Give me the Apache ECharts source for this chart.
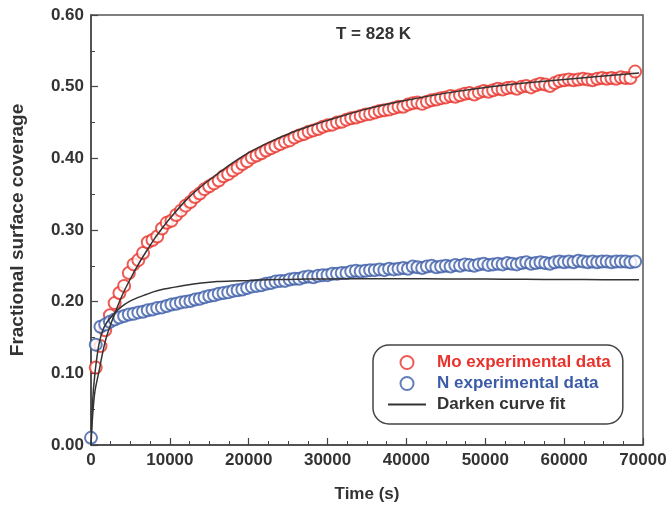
<!DOCTYPE html>
<html>
<head>
<meta charset="utf-8">
<script src="https://cdn.jsdelivr.net/npm/echarts@6/dist/echarts.min.js"></script>
<style>
html,body{margin:0;padding:0;background:#fff;}
#chart{width:670px;height:508px;}
</style>
</head>
<body>
<div id="chart"></div>
<script>
// ---- data ----
var moTime = [600,1200,1800,2400,3000,3600,4200,4800,5400,6000,6600,7200,7800,8400,9000,9600,10200,10800,11400,12000,
12600,13200,13800,14400,15000,15600,16200,16800,17400,18000,18600,19200,19800,20400,21000,21600,22200,22800,23400,24000,
24600,25200,25800,26400,27000,27600,28200,28800,29400,30000,30600,31200,31800,32400,33000,33600,34200,34800,35400,36000,
36600,37200,37800,38400,39000,39600,40200,40800,41400,42000,42600,43200,43800,44400,45000,45600,46200,46800,47400,48000,
48600,49200,49800,50400,51000,51600,52200,52800,53400,54000,54600,55200,55800,56400,57000,57600,58200,58800,59400,60000,
60600,61200,61800,62400,63000,63600,64200,64800,65400,66000,66600,67200,67800,68400,69000];
var moValues = [0.108,0.138,0.160,0.181,0.198,0.212,0.222,0.240,0.252,0.258,0.268,0.283,0.286,0.291,0.302,0.310,0.313,0.321,0.327,0.334,
0.339,0.346,0.351,0.357,0.361,0.365,0.369,0.375,0.378,0.383,0.387,0.392,0.396,0.401,0.404,0.407,0.411,0.414,0.417,0.420,
0.423,0.425,0.429,0.432,0.434,0.437,0.439,0.441,0.444,0.446,0.447,0.450,0.451,0.454,0.456,0.457,0.459,0.461,0.462,0.464,
0.466,0.467,0.468,0.470,0.472,0.472,0.475,0.477,0.478,0.476,0.479,0.481,0.482,0.484,0.485,0.487,0.486,0.488,0.490,0.491,
0.489,0.492,0.494,0.493,0.495,0.497,0.496,0.498,0.499,0.497,0.500,0.501,0.499,0.502,0.504,0.503,0.501,0.505,0.508,0.509,
0.510,0.509,0.510,0.511,0.510,0.509,0.511,0.512,0.511,0.512,0.511,0.513,0.512,0.512,0.521];

var nTime = [0,600,1200,1800,2400,3000,3600,4200,4800,5400,6000,6600,7200,7800,8400,9000,9600,10200,10800,11400,12000,
12600,13200,13800,14400,15000,15600,16200,16800,17400,18000,18600,19200,19800,20400,21000,21600,22200,22800,23400,24000,
24600,25200,25800,26400,27000,27600,28200,28800,29400,30000,30600,31200,31800,32400,33000,33600,34200,34800,35400,36000,
36600,37200,37800,38400,39000,39600,40200,40800,41400,42000,42600,43200,43800,44400,45000,45600,46200,46800,47400,48000,
48600,49200,49800,50400,51000,51600,52200,52800,53400,54000,54600,55200,55800,56400,57000,57600,58200,58800,59400,60000,
60600,61200,61800,62400,63000,63600,64200,64800,65400,66000,66600,67200,67800,68400,69000];
var nValues = [0.010,0.140,0.165,0.168,0.172,0.175,0.178,0.180,0.182,0.183,0.185,0.186,0.188,0.189,0.191,0.192,0.194,0.196,0.197,0.199,0.200,
0.201,0.203,0.204,0.206,0.208,0.209,0.211,0.212,0.213,0.215,0.216,0.217,0.219,0.221,0.222,0.223,0.225,0.226,0.228,0.229,
0.229,0.231,0.232,0.232,0.234,0.235,0.234,0.236,0.237,0.237,0.239,0.239,0.240,0.240,0.242,0.243,0.242,0.243,0.244,0.244,
0.245,0.244,0.246,0.245,0.246,0.247,0.246,0.249,0.248,0.247,0.249,0.250,0.248,0.249,0.250,0.249,0.251,0.250,0.252,0.251,
0.250,0.252,0.253,0.251,0.252,0.253,0.252,0.254,0.253,0.252,0.254,0.255,0.253,0.254,0.255,0.254,0.253,0.255,0.256,0.255,
0.256,0.255,0.257,0.256,0.255,0.256,0.255,0.256,0.256,0.255,0.256,0.256,0.256,0.255,0.256];

var fitTime = [0,200,500,1000,1500,2000,3000,4000,5000,6000,7000,8000,9000,10000,12000,14000,16000,18000,20000,22500,25000,
27500,30000,35000,40000,45000,50000,55000,60000,65000,69500];
var fitMo = [0,0.040,0.075,0.102,0.130,0.152,0.183,0.210,0.232,0.252,0.270,0.287,0.302,0.316,0.341,0.361,0.378,0.394,0.408,0.422,0.434,
0.444,0.453,0.469,0.481,0.491,0.499,0.505,0.510,0.515,0.519];
var fitN = [0,0.060,0.100,0.140,0.160,0.171,0.184,0.194,0.201,0.206,0.210,0.214,0.217,0.219,0.223,0.226,0.228,0.229,0.2296,0.2305,0.231,
0.2315,0.2318,0.232,0.232,0.2318,0.2315,0.2312,0.231,0.2307,0.2305];

var xTicks = [0,10000,20000,30000,40000,50000,60000,70000];
var yTicks = [0.00,0.10,0.20,0.30,0.40,0.50,0.60];

var seriesNames = ['Mo experimental data','N experimental data','Darken curve fit'];
var titleText = 'T = 828 K';

function zip(a,b){ var r=[]; for(var i=0;i<a.length;i++) r.push([a[i],b[i]]); return r; }

var RED = '#e8322b', BLUE = '#3c5ca8', DARK = '#333333';
var FONT = 'Liberation Sans, Arial, sans-serif';

var chart = echarts.init(document.getElementById('chart'), null, {renderer:'canvas'});
chart.setOption({
  animation:false,
  backgroundColor:'#fff',
  title:{
    text:titleText, left:331, top:21,
    textStyle:{fontFamily:FONT, fontSize:17, fontWeight:'bold', color:DARK}
  },
  grid:{left:90, right:27, top:15, bottom:61, show:true, borderColor:'#555', borderWidth:1.5, backgroundColor:'transparent'},
  legend:{
    orient:'vertical', left:373, top:345,
    padding:[9,12,11,15],
    itemGap:4, itemWidth:38, itemHeight:13,
    borderColor:'#444', borderWidth:1.5, borderRadius:16,
    textStyle:{fontFamily:FONT, fontSize:17, fontWeight:'bold', padding:[0,0,0,6]},
    data:[
      {name:seriesNames[0], icon:'emptyCircle', textStyle:{color:RED}},
      {name:seriesNames[1], icon:'emptyCircle', textStyle:{color:BLUE}},
      {name:seriesNames[2], icon:'path://M0,0 L33,0 L33,1.6 L0,1.6 Z', textStyle:{color:DARK}}
    ]
  },
  xAxis:{
    type:'value', min:xTicks[0], max:xTicks[xTicks.length-1], interval:10000,
    name:'Time (s)', nameLocation:'middle', nameGap:41,
    nameTextStyle:{fontFamily:FONT, fontSize:17, fontWeight:'bold', color:DARK},
    axisLine:{show:true, lineStyle:{color:'#444', width:1.5}},
    axisTick:{show:true, inside:true, length:7, lineStyle:{color:'#444', width:1.2}},
    minorTick:{show:true, splitNumber:4, length:4, lineStyle:{color:'#444', width:1}},
    splitLine:{show:false},
    axisLabel:{fontFamily:FONT, fontSize:17, fontWeight:'bold', color:DARK, margin:7,
      formatter:function(v){return String(v);}}
  },
  yAxis:{
    type:'value', min:yTicks[0], max:yTicks[yTicks.length-1], interval:0.1,
    name:'Fractional surface coverage', nameLocation:'middle', nameGap:64,
    nameTextStyle:{fontFamily:FONT, fontSize:19, fontWeight:'bold', color:DARK},
    axisLine:{show:true, lineStyle:{color:'#444', width:1.5}},
    axisTick:{show:true, inside:true, length:7, lineStyle:{color:'#444', width:1.2}},
    minorTick:{show:true, splitNumber:2, length:4, lineStyle:{color:'#444', width:1}},
    splitLine:{show:false},
    axisLabel:{fontFamily:FONT, fontSize:17, fontWeight:'bold', color:DARK, margin:7,
      formatter:function(v){return v.toFixed(2);}}
  },
  series:[
    {name:seriesNames[0], type:'scatter', data:zip(moTime,moValues), symbol:'emptyCircle', symbolSize:12, clip:false,
      itemStyle:{color:RED, borderColor:RED, borderWidth:1.2}, z:2},
    {name:seriesNames[1], type:'scatter', data:zip(nTime,nValues), symbol:'emptyCircle', symbolSize:12, clip:false,
      itemStyle:{color:BLUE, borderColor:BLUE, borderWidth:1.2}, z:2},
    {name:seriesNames[2], type:'line', data:zip(fitTime,fitMo), smooth:0.3, symbol:'none',
      lineStyle:{color:DARK, width:1.5}, itemStyle:{color:DARK}, z:3},
    {name:seriesNames[2], type:'line', data:zip(fitTime,fitN), smooth:0.3, symbol:'none',
      lineStyle:{color:DARK, width:1.5}, itemStyle:{color:DARK}, z:3}
  ]
});
</script>
</body>
</html>
